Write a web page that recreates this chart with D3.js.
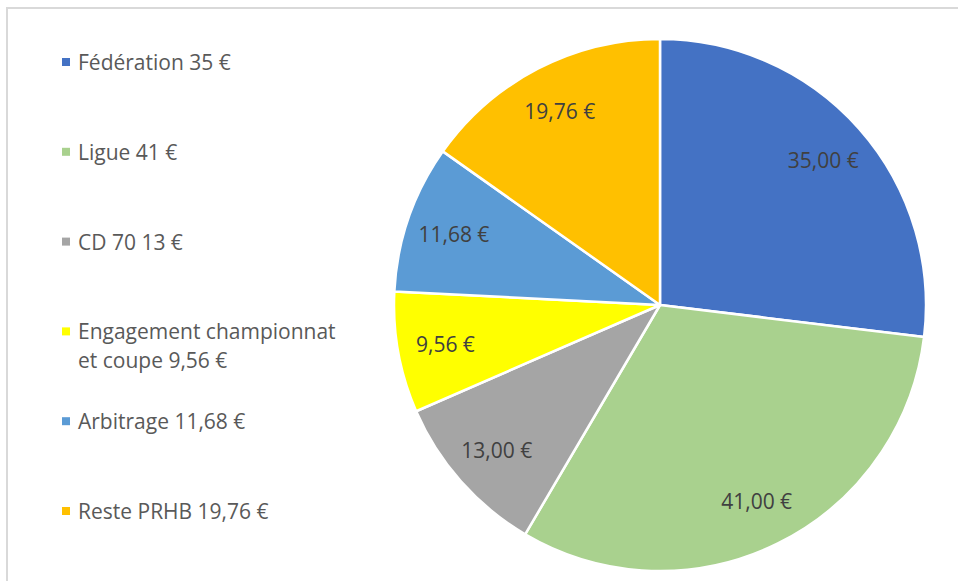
<!DOCTYPE html>
<html>
<head>
<meta charset="utf-8">
<script src="https://cdn.jsdelivr.net/npm/d3@7"></script>
<style>
  body { margin: 0; background: #fff; }
  svg { display: block; font-family: "Open Sans", "Noto Sans", sans-serif; }
</style>
</head>
<body>
<div id="chart"></div>
<script>
const categories = ["Fédération", "Ligue", "CD 70", "Engagement championnat et coupe", "Arbitrage", "Reste PRHB"];
const values = [35, 41, 13, 9.56, 11.68, 19.76];
const legendLines = [
  ["Fédération 35 €"],
  ["Ligue 41 €"],
  ["CD 70 13 €"],
  ["Engagement championnat", "et coupe 9,56 €"],
  ["Arbitrage 11,68 €"],
  ["Reste PRHB 19,76 €"]
];
const colors = ["#4472C4", "#A9D18E", "#A5A5A5", "#FFFF00", "#5B9BD5", "#FFC000"];

const W = 958, H = 581;
const cx = 660, cy = 305, radius = 266;

const svg = d3.select("#chart")
  .append("svg")
  .attr("width", W)
  .attr("height", H);

// chart area border (only top/left visible in the crop)
svg.append("rect")
  .attr("x", 7)
  .attr("y", 8)
  .attr("width", W + 20)
  .attr("height", H + 20)
  .style("fill", "none")
  .style("stroke", "#d9d9d9")
  .style("stroke-width", 2);

const data = categories.map((c, i) => ({ name: c, value: values[i], lines: legendLines[i] }));

const color = d3.scaleOrdinal()
  .domain(categories)
  .range(colors);

const fr = d3.formatLocale({ decimal: ",", thousands: " ", grouping: [3], currency: ["", " €"] });
const fmt = fr.format("$.2f");

const pie = d3.pie()
  .sort(null)
  .value(d => d.value);

const arc = d3.arc()
  .innerRadius(0)
  .outerRadius(radius);

const labelArc = d3.arc()
  .innerRadius(radius * 0.82)
  .outerRadius(radius * 0.82);

const g = svg.append("g")
  .attr("transform", `translate(${cx},${cy})`);

const arcs = pie(data);

g.selectAll("path.slice")
  .data(arcs)
  .join("path")
  .attr("class", "slice")
  .attr("d", arc)
  .style("fill", d => color(d.data.name))
  .style("stroke", "#fff")
  .style("stroke-width", 2.5)
  .style("stroke-linejoin", "round");

g.selectAll("text.value-label")
  .data(arcs)
  .join("text")
  .attr("class", "value-label")
  .attr("transform", d => `translate(${labelArc.centroid(d)})`)
  .attr("text-anchor", "middle")
  .attr("dominant-baseline", "central")
  .style("font-size", "21px")
  .style("fill", "#404040")
  .text(d => fmt(d.data.value));

// legend
const ly = d3.scalePoint()
  .domain(categories)
  .range([62, 511]);

const legend = svg.append("g").attr("class", "legend");

const items = legend.selectAll("g.item")
  .data(data)
  .join("g")
  .attr("class", "item")
  .attr("transform", d => `translate(0,${ly(d.name)})`);

items.append("rect")
  .attr("x", 62)
  .attr("y", -4)
  .attr("width", 8)
  .attr("height", 8)
  .style("fill", d => color(d.name));

items.append("text")
  .attr("x", 78)
  .style("font-size", "21px")
  .style("fill", "#595959")
  .selectAll("tspan")
  .data(d => d.lines)
  .join("tspan")
  .attr("x", 78)
  .attr("y", (d, i) => i * 29)
  .attr("dominant-baseline", "central")
  .text(d => d);
</script>
</body>
</html>
